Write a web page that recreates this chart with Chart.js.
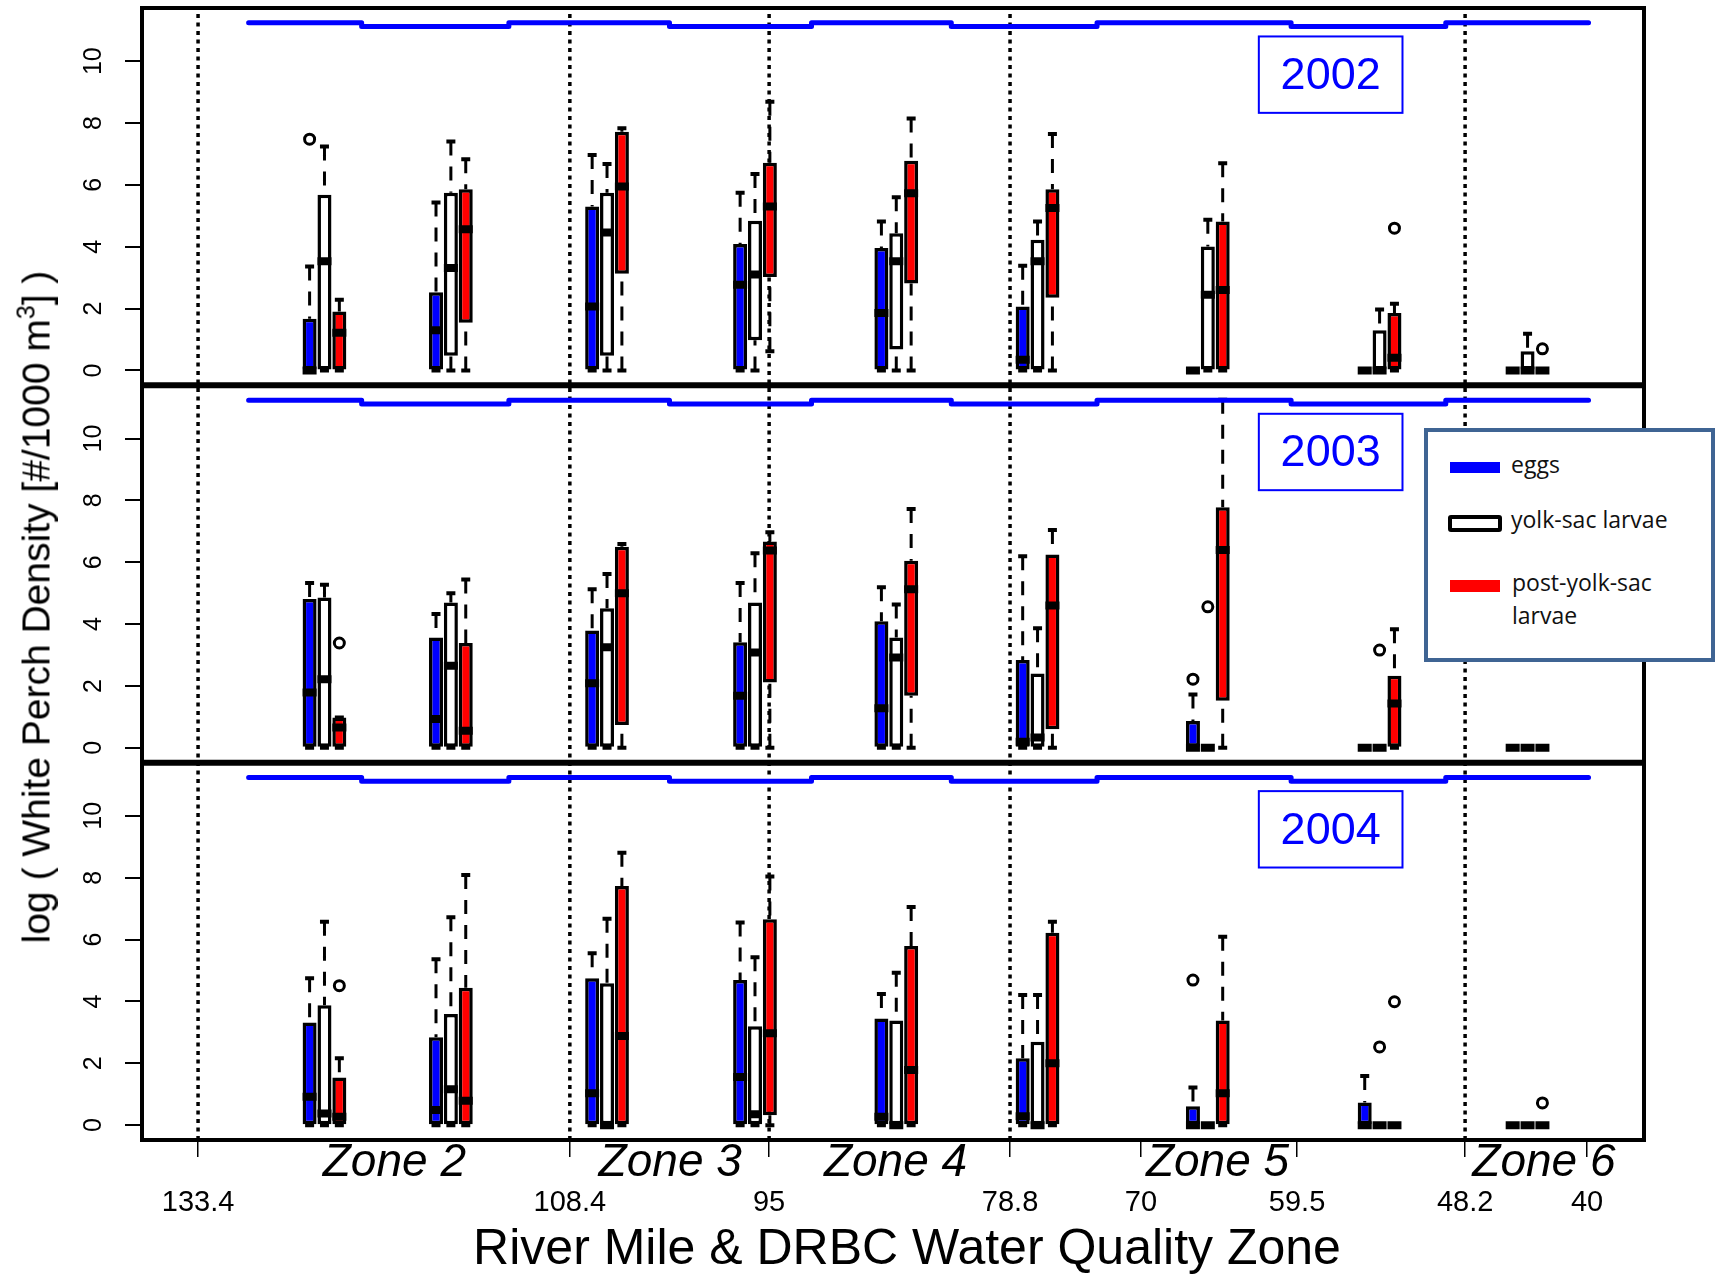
<!DOCTYPE html>
<html>
<head>
<meta charset="utf-8">
<script src="https://cdn.jsdelivr.net/npm/chart.js@4.4.1/dist/chart.umd.min.js"></script>
<style>
  body { margin: 0; background: #fff; }
  #wrap { position: relative; width: 1716px; height: 1275px; }
  #grafica { position: absolute; left: 0; top: 0; }
  .txt { position: absolute; white-space: nowrap; }
  #ytitulo { left: 36px; top: 607px; transform: translate(-50%, -50%) rotate(-90deg);
    font: 39px "Liberation Sans", Arial, sans-serif; line-height: 1; color: #000; }
  #ytitulo sup { font-size: 25px; position: relative; top: -15px; vertical-align: baseline; }
  #leyenda { position: absolute; left: 1424px; top: 428px; width: 291px; height: 234px;
    box-sizing: border-box; border: 4px solid #3f6493; background: #fff; }
  .muestra { position: absolute; box-sizing: border-box; }
  .lt { font: 23px "Open Sans", sans-serif; line-height: 23px; color: #111; }
</style>
</head>
<body>
<div id="wrap">
  <canvas id="grafica" width="1716" height="1275"></canvas>
  <div id="ytitulo" class="txt">log ( White Perch Density [#/1000 m<sup>3</sup>] )</div>
  <div id="leyenda"></div>
  <div class="muestra" style="left:1450px;top:462px;width:50px;height:11px;background:#0000ff"></div>
  <div class="muestra" style="left:1448px;top:515px;width:54px;height:17px;border:4px solid #000;border-radius:3px;background:#fff"></div>
  <div class="muestra" style="left:1450px;top:580px;width:50px;height:12px;background:#ff0000"></div>
  <div id="lt0" class="txt lt" style="left:1511px;top:453px"></div>
  <div id="lt1" class="txt lt" style="left:1511px;top:508px"></div>
  <div id="lt2" class="txt lt" style="left:1512px;top:566px;line-height:33px;white-space:normal;width:190px"></div>
</div>
<script>
// river mile of each sampled reach (box groups)
const groupMiles = [124.9, 116.4, 105.9, 95.95, 86.45, 76.95, 65.5, 53.95, 44.0];
const seriesLabels = ['eggs', 'yolk-sac larvae', 'post-yolk-sac larvae'];
const years = ['2002', '2003', '2004'];
const mileTicks = [40, 48.2, 59.5, 70, 78.8, 95, 108.4, 133.4];
const zoneBreaks = [133.4, 108.4, 95, 78.8, 48.2];
const zoneNames = ['Zone 2', 'Zone 3', 'Zone 4', 'Zone 5', 'Zone 6'];
const zoneMiles = [120.2, 101.65, 86.5, 64.85, 42.9];
const yTicks = [0, 2, 4, 6, 8, 10];
const xTitle = 'River Mile & DRBC Water Quality Zone';

// blue strata line along the top of each panel
const stepMiles = [130.0, 122.4, 112.5, 101.7, 92.15, 82.75, 72.95, 59.9, 49.5, 39.9];
const stepLevels = [11.24, 11.12, 11.24, 11.12, 11.24, 11.12, 11.24, 11.12, 11.24, 11.24];

// [min, q1, median, q3, max] per reach
const eggs2002 = [[0,0,0,1.67,3.36],[0,0,1.3,2.53,5.43],[0,0,2.07,5.3,6.97],[0,0,2.77,4.09,5.75],[0,0,1.86,3.96,4.82],[0,0,0.35,2.07,3.39],[0,0,0,0,0],[0,0,0,0,0],[0,0,0,0,0]];
const yolk2002 = [[0,0,3.53,5.68,7.24],[0,0.48,3.31,5.75,7.4],[0,0.48,4.46,5.75,6.68],[0,0.98,3.1,4.84,6.35],[0,0.68,3.53,4.44,5.6],[0,0,3.53,4.23,4.82],[0,0,2.45,4.01,4.87],[0,0,0,1.3,1.97],[0,0,0,0.62,1.19]];
const post2002 = [[0,0,1.22,1.91,2.29],[0,1.54,4.57,5.86,6.83],[0,3.13,5.95,7.72,7.83],[0.62,3.02,5.3,6.72,8.69],[0,2.81,5.73,6.78,8.15],[0,2.35,5.25,5.86,7.65],[0,0,2.6,4.82,6.7],[0,0,0.41,1.86,2.16],[0,0,0,0,0]];
const eggs2003 = [[0,0,1.79,4.81,5.33],[0,0,0.93,3.57,4.33],[0,0,2.09,3.79,5.13],[0,0,1.68,3.41,5.33],[0,0,1.28,4.09,5.19],[0,0,0.2,2.84,6.19],[0,0,0,0.87,1.72],[0,0,0,0,0],[0,0,0,0,0]];
const yolk2003 = [[0,0,2.22,4.86,5.27],[0,0,2.65,4.7,5.0],[0,0,3.25,4.51,5.62],[0,0,3.08,4.7,6.29],[0,0,2.92,3.57,4.63],[0,0,0.33,2.4,3.87],[0,0,0,0,0],[0,0,0,0,0],[0,0,0,0,0]];
const post2003 = [[0,0,0.66,0.98,0.98],[0,0,0.55,3.39,5.44],[0,0.74,5.0,6.5,6.59],[0,2.11,6.38,6.67,6.97],[0,1.68,5.13,6.05,7.72],[0,0.6,4.6,6.25,7.04],[0,1.52,6.4,7.78,11.25],[0,0,1.43,2.33,3.83],[0,0,0,0,0]];
const eggs2004 = [[0,0,0.92,3.32,4.75],[0,0,0.49,2.84,5.36],[0,0,1.03,4.75,5.56],[0,0,1.56,4.69,6.55],[0,0,0.27,3.45,4.24],[0,0,0.29,2.16,4.21],[0,0,0,0.61,1.22],[0,0,0,0.73,1.59],[0,0,0,0,0]];
const yolk2004 = [[0,0,0.38,3.88,6.58],[0,0,1.16,3.59,6.72],[0,0,0,4.59,6.67],[0,0,0.35,3.2,5.43],[0,0,0,3.38,4.93],[0,0,0,2.7,4.21],[0,0,0,0,0],[0,0,0,0,0],[0,0,0,0,0]];
const post2004 = [[0,0,0.27,1.54,2.16],[0,0,0.79,4.44,8.09],[0,0,2.88,7.73,8.81],[0,0.32,2.97,6.66,8.04],[0,0,1.78,5.79,7.05],[0,0,2.0,6.22,6.58],[0,0,1.03,3.38,6.09],[0,0,0,0,0],[0,0,0,0,0]];

// outliers: [series, reach, value]
const outliers2002 = [[0,0,7.48],[2,7,4.6],[2,8,0.7]];
const outliers2003 = [[2,0,3.39],[0,6,2.22],[1,6,4.56],[1,7,3.16]];
const outliers2004 = [[2,0,4.51],[0,6,4.69],[1,7,2.53],[2,7,3.99],[2,8,0.72]];

const seriesColors = ['#0000ff', '#ffffff', '#ff0000'];
const seriesShift = [1, 0, -1]; // miles from reach centre
const yearBoxMiles = [62.07, 52.41];
const yearBoxLevels = [10.8, 8.33];

const yearAxes = ['y2002', 'y2003', 'y2004'];
const statsByYear = [[eggs2002, yolk2002, post2002], [eggs2003, yolk2003, post2003], [eggs2004, yolk2004, post2004]];
const outliersByYear = [outliers2002, outliers2003, outliers2004];

seriesLabels.forEach((l, i) => { document.getElementById('lt' + i).textContent = l; });

Chart.defaults.font.family = '"Liberation Sans", Arial, sans-serif';
Chart.defaults.color = '#000';

const datasets = [];
yearAxes.forEach((axis, p) => {
  datasets.push({
    type: 'line', yAxisID: axis, stepped: true,
    data: stepMiles.map((m, i) => ({x: m, y: stepLevels[i]})),
    borderColor: '#0000ff', borderWidth: 5, borderCapStyle: 'round', borderJoinStyle: 'round',
    pointRadius: 0, order: 2
  });
  statsByYear[p].forEach((stats, s) => {
    const xs = groupMiles.map(m => m + seriesShift[s]);
    const whisk = [];
    stats.forEach((st, i) => {
      whisk.push({x: xs[i], y: st[4]}, {x: xs[i], y: st[3]}, {x: xs[i], y: null});
      whisk.push({x: xs[i], y: st[0]}, {x: xs[i], y: st[1]}, {x: xs[i], y: null});
    });
    datasets.push({
      type: 'line', yAxisID: axis, data: whisk,
      borderColor: '#000', borderWidth: 3, borderDash: [14, 11],
      pointRadius: 0, spanGaps: false, order: 5
    });
    // whisker caps
    datasets.push({
      type: 'scatter', yAxisID: axis,
      data: stats.flatMap((st, i) => [{x: xs[i], y: st[0]}, {x: xs[i], y: st[4]}]),
      pointStyle: 'line', pointRadius: 4.5, pointBorderWidth: 4, pointBorderColor: '#000', order: 4
    });
    // boxes q1..q3
    datasets.push({
      type: 'bar', yAxisID: axis, label: seriesLabels[s],
      data: stats.map((st, i) => ({x: xs[i], y: [st[1], st[3]]})),
      backgroundColor: seriesColors[s], borderColor: '#000', borderWidth: 3.5,
      borderSkipped: false, barThickness: 14, grouped: false, inflateAmount: 0, order: 3
    });
    // medians
    datasets.push({
      type: 'scatter', yAxisID: axis,
      data: stats.map((st, i) => ({x: xs[i], y: st[2]})),
      pointStyle: 'line', pointRadius: 7, pointBorderWidth: 8, pointBorderColor: '#000', order: 1
    });
  });
  datasets.push({
    type: 'scatter', yAxisID: axis,
    data: outliersByYear[p].map(o => ({x: groupMiles[o[1]] + seriesShift[o[0]], y: o[2]})),
    pointStyle: 'circle', pointRadius: 5, pointBorderWidth: 3,
    pointBorderColor: '#000', pointBackgroundColor: 'rgba(0,0,0,0)', order: 1
  });
});

const yScales = {};
yearAxes.forEach((id, p) => {
  yScales[id] = {
    type: 'linear', position: 'left', stack: 'panels', stackWeight: 1, weight: 3 - p,
    min: -0.48, max: 11.72,
    afterBuildTicks: s => { s.ticks = yTicks.map(v => ({value: v})); },
    afterFit: s => { s.width = 142; },
    ticks: { display: false },
    grid: { drawOnChartArea: false, drawTicks: true, tickLength: 17, color: '#000', lineWidth: 2 },
    border: { display: false }
  };
});

const marcos = {
  id: 'marcos',
  beforeDatasetsDraw(chart) {
    const {ctx, chartArea: a, scales} = chart;
    ctx.save();
    ctx.strokeStyle = '#000';
    ctx.lineWidth = 3.5;
    ctx.setLineDash([4, 4.5]);
    zoneBreaks.forEach(m => {
      const x = scales.x.getPixelForValue(m);
      ctx.beginPath();
      ctx.moveTo(x, a.top + 6);
      ctx.lineTo(x, a.bottom);
      ctx.stroke();
    });
    ctx.restore();
  },
  afterDatasetsDraw(chart) {
    const {ctx, chartArea: a, scales} = chart;
    ctx.save();
    ctx.strokeStyle = '#000';
    ctx.lineWidth = 4;
    ctx.strokeRect(a.left, a.top, a.right - a.left, a.bottom - a.top);
    ctx.lineWidth = 6;
    yearAxes.slice(0, 2).forEach(id => {
      const y = scales[id].bottom;
      ctx.beginPath();
      ctx.moveTo(a.left, y);
      ctx.lineTo(a.right, y);
      ctx.stroke();
    });

    // rotated y tick labels
    ctx.fillStyle = '#000';
    ctx.font = '25px "Liberation Sans", Arial, sans-serif';
    ctx.textAlign = 'center';
    ctx.textBaseline = 'middle';
    yearAxes.forEach(id => {
      const s = scales[id];
      s.ticks.forEach(t => {
        ctx.save();
        ctx.translate(94, s.getPixelForValue(t.value));
        ctx.rotate(-Math.PI / 2);
        ctx.fillText(String(t.value), 0, 0);
        ctx.restore();
      });
    });

    // year boxes
    yearAxes.forEach((id, p) => {
      const s = scales[id];
      const x0 = scales.x.getPixelForValue(yearBoxMiles[0]);
      const x1 = scales.x.getPixelForValue(yearBoxMiles[1]);
      const y0 = s.getPixelForValue(yearBoxLevels[0]);
      const y1 = s.getPixelForValue(yearBoxLevels[1]);
      ctx.strokeStyle = '#0000ff';
      ctx.lineWidth = 2;
      ctx.strokeRect(x0, y0, x1 - x0, y1 - y0);
      ctx.fillStyle = '#0000ff';
      ctx.font = '45px "Liberation Sans", Arial, sans-serif';
      ctx.fillText(years[p], (x0 + x1) / 2, (y0 + y1) / 2 + 2);
    });

    // zone names under the axis
    ctx.fillStyle = '#000';
    ctx.font = 'italic 46px "Liberation Sans", Arial, sans-serif';
    zoneNames.forEach((z, i) => {
      ctx.fillText(z, scales.x.getPixelForValue(zoneMiles[i]), a.bottom + 23.5);
    });

    // axis title, centred a little right of the plot centre as in the original
    ctx.font = '50px "Liberation Sans", Arial, sans-serif';
    ctx.fillText(xTitle, (a.left + a.right) / 2 + 14, a.bottom + 110);
    ctx.restore();
  }
};

const grafica = new Chart(document.getElementById('grafica'), {
  type: 'bar',
  data: { datasets },
  options: {
    responsive: false,
    animation: false,
    events: [],
    layout: { autoPadding: false, padding: { top: 8, right: 72, bottom: 0, left: 0 } },
    plugins: { legend: { display: false }, tooltip: { enabled: false } },
    scales: {
      x: {
        type: 'linear', position: 'bottom', reverse: true, min: 36.17, max: 137.17, offset: false,
        afterBuildTicks: s => { s.ticks = mileTicks.map(v => ({value: v})); },
        afterFit: s => { s.height = 135; },
        ticks: { autoSkip: false, maxRotation: 0, padding: 28.6, font: { size: 29 }, callback: v => String(v) },
        grid: { offset: false, drawOnChartArea: false, drawTicks: true, tickLength: 17, color: '#000', lineWidth: 1.5 },
        border: { display: false },
        title: { display: false }
      },
      ...yScales
    }
  },
  plugins: [marcos]
});
</script>
</body>
</html>
